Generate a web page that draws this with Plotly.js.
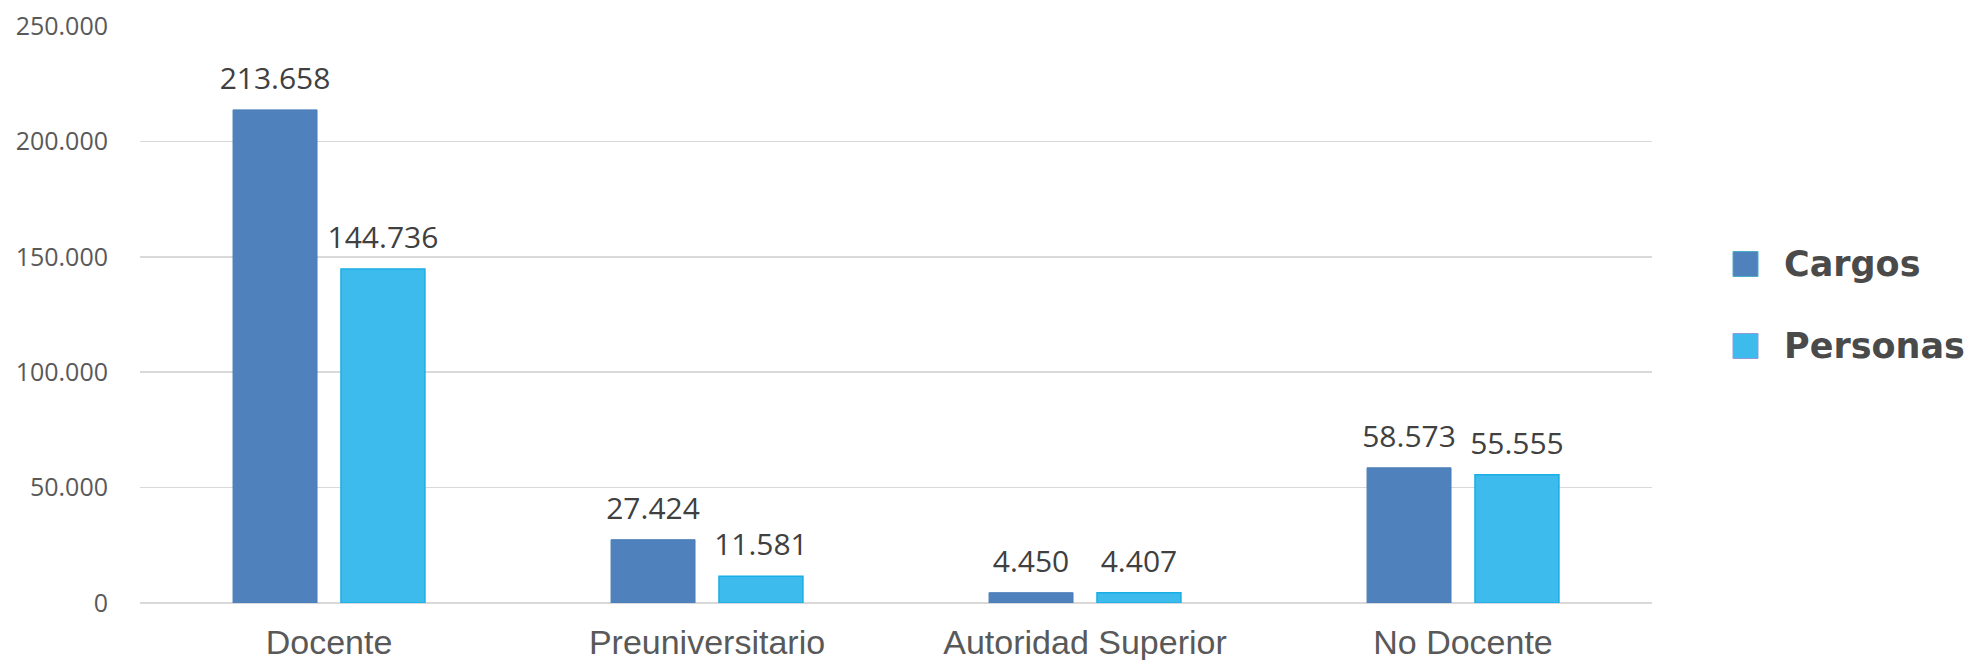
<!DOCTYPE html>
<html>
<head>
<meta charset="utf-8">
<script src="https://cdn.plot.ly/plotly-3.0.1.min.js"></script>
<style>html,body{margin:0;padding:0;background:#fff;}#chart{width:1966px;height:660px;}</style>
</head>
<body>
<div id="chart"></div>
<script>
const categories = ["Docente", "Preuniversitario", "Autoridad Superior", "No Docente"];
const seriesNames = ["Cargos", "Personas"];
const cargos = [213658, 27424, 4450, 58573];
const personas = [144736, 11581, 4407, 55555];
const yTicks = [0, 50000, 100000, 150000, 200000, 250000];

const colors = ["#4F81BD", "#3EBBED"];
const lineColors = ["#4A7DB8", "#1AAEE6"];

// plot area in pixels
const W = 1966, H = 660, L = 140, R = 314, T = 26, B = 57;
const pw = W - L - R, ph = H - T - B;
const px = x => (x - L) / pw;
const py = y => (H - B - y) / ph;

const traces = [
  {type: "bar", name: seriesNames[0], x: categories, y: cargos,
   marker: {color: colors[0], line: {color: lineColors[0], width: 1}}, hoverinfo: "skip"},
  {type: "bar", name: seriesNames[1], x: categories, y: personas,
   marker: {color: colors[1], line: {color: lineColors[1], width: 1.5}}, hoverinfo: "skip"},
  {type: "scatter", mode: "markers+text", x: categories, y: cargos,
   marker: {size: 20, color: "rgba(0,0,0,0)"}, texttemplate: "%{y:,}", textposition: "top center",
   textfont: {family: "Open Sans", size: 30, color: "#404040"}, hoverinfo: "skip", cliponaxis: false},
  {type: "scatter", mode: "markers+text", x: categories, y: personas,
   marker: {size: 20, color: "rgba(0,0,0,0)"}, texttemplate: "%{y:,}", textposition: "top center",
   textfont: {family: "Open Sans", size: 30, color: "#404040"}, hoverinfo: "skip", cliponaxis: false}
];

// legend drawn as shapes + annotations
const legendCenters = [264, 346];
const shapes = [], annotations = [];
seriesNames.forEach((n, i) => {
  const c = legendCenters[i];
  shapes.push({type: "rect", xref: "paper", yref: "paper",
    x0: px(1733), x1: px(1758), y0: py(c + 12.5), y1: py(c - 12.5),
    fillcolor: colors[i], line: {color: i === 0 ? "#4BACC6" : "#8E9BD8", width: 1}});
  annotations.push({xref: "paper", yref: "paper", x: px(1782), y: py(c), xanchor: "left", yanchor: "middle",
    text: n, showarrow: false,
    font: {family: "DejaVu Sans", size: 35, color: "#4A4A4A", weight: 700}});
});

const layout = {
  width: W, height: H,
  margin: {l: L, r: R, t: T, b: B},
  paper_bgcolor: "#fff", plot_bgcolor: "#fff",
  separators: ",.",
  barmode: "group", bargap: 0.429, bargroupgap: 0.222,
  scattermode: "group", scattergap: 0.429,
  showlegend: false,
  shapes: shapes, annotations: annotations,
  xaxis: {type: "category", showgrid: false, zeroline: false, showline: false,
          ticks: "outside", ticklen: 9, tickcolor: "rgba(0,0,0,0)",
          tickfont: {family: "Liberation Sans", size: 34, color: "#595959"}, fixedrange: true},
  yaxis: {range: [0, 250000], tickvals: yTicks, tickformat: ",",
          showgrid: true, gridcolor: "#D9D9D9", gridwidth: 1.5,
          zeroline: true, zerolinecolor: "#D9D9D9", zerolinewidth: 2,
          showline: false, ticks: "outside", ticklen: 26, tickcolor: "rgba(0,0,0,0)",
          tickfont: {family: "Open Sans", size: 25, color: "#595959"}, fixedrange: true}
};

Plotly.newPlot("chart", traces, layout, {staticPlot: true, displayModeBar: false});
</script>
</body>
</html>
